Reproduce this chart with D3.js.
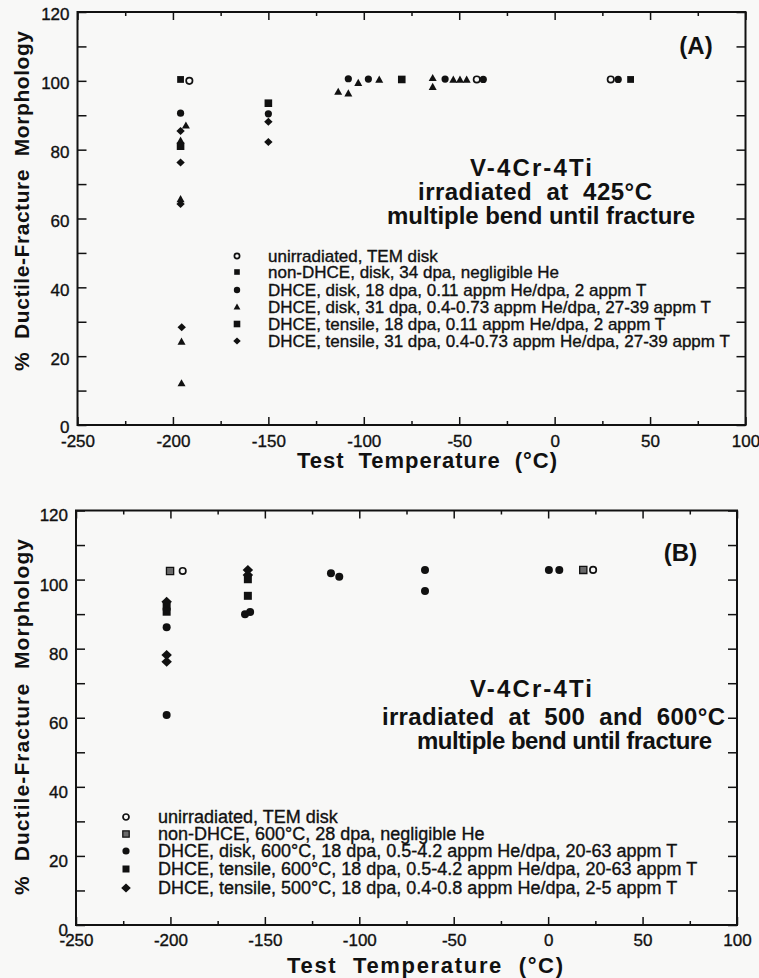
<!DOCTYPE html>
<html>
<head>
<meta charset="utf-8">
<script src="https://cdn.jsdelivr.net/npm/d3@7"></script>
<style>
  html, body { margin: 0; padding: 0; background: #f8f8f7; }
  svg { display: block; }
  text { fill: #111; font-family: "Liberation Sans", Arial, Helvetica, sans-serif; }
  .title { font-weight: bold; white-space: pre; }
  .thin { stroke: #111; stroke-width: 0.35px; }
</style>
</head>
<body>
<svg id="chart" width="759" height="978"></svg>
<script>
// Shared axes
const xTickValues = [-250, -200, -150, -100, -50, 0, 50, 100];
const xMinorTicks = [-225, -175, -125, -75, -25, 25, 75];
const yTickValues = [0, 10, 20, 30, 40, 50, 60, 70, 80, 90, 100, 110, 120];
const yLabelledTicks = [0, 20, 40, 60, 80, 100, 120];

// Panel A: irradiated at 425°C — [temperature °C, % ductile]
const aUnirradiated = [[-191.4, 100], [-40.8, 100.4], [29.4, 100.4]];
const aNonDhceDisk = [[-196, 100.4], [39.8, 100.4]];
const aDhceDisk18 = [[-196, 90.6], [-150, 90.4], [-108.1, 100.6], [-97.6, 100.5],
                     [-57.4, 100.5], [-37.4, 100.4], [33.3, 100.4]];
const aDhceDisk31 = [[-193.2, 87], [-196, 82.6], [-196, 65.6], [-195.5, 24.2], [-195.5, 12.1],
                     [-113.4, 96.8], [-108.1, 96.3], [-102.9, 99.4], [-91.9, 100.3],
                     [-63.9, 100.8], [-63.9, 98.2], [-53.1, 100.3], [-49.6, 100.3], [-46.1, 100.3]];
const aDhceTensile18 = [[-196, 81], [-150, 93.5], [-80.1, 100.4]];
const aDhceTensile31 = [[-196, 85.4], [-196, 76.3], [-196, 64.2], [-195.4, 28.4],
                        [-150, 88.1], [-150, 82.2]];
const aLegendLabels = [
  "unirradiated, TEM disk",
  "non-DHCE, disk, 34 dpa, negligible He",
  "DHCE, disk, 18 dpa, 0.11 appm He/dpa, 2 appm T",
  "DHCE, disk, 31 dpa, 0.4-0.73 appm He/dpa, 27-39 appm T",
  "DHCE, tensile, 18 dpa, 0.11 appm He/dpa, 2 appm T",
  "DHCE, tensile, 31 dpa, 0.4-0.73 appm He/dpa, 27-39 appm T"
];
const aNoteLines = ["V-4Cr-4Ti", "irradiated  at  425°C", "multiple bend until fracture"];

// Panel B: irradiated at 500 and 600°C
const bUnirradiated = [[-193.5, 102.5], [23.8, 102.8]];
const bNonDhce600 = [[-200.2, 102.5], [18.6, 102.8]];
const bDhceDisk600 = [[-202, 86.2], [-202, 60.8], [-160.5, 90], [-157.8, 90.6],
                      [-115, 101.8], [-110.6, 100.8], [-65.2, 102.8], [-65.2, 96.7],
                      [0.4, 102.8], [5.9, 102.8]];
const bDhceTensile600 = [[-202, 92.2], [-202, 90.7], [-159, 100.1], [-159, 95.3]];
const bDhceTensile500 = [[-202, 93.6], [-202, 78.2], [-202, 76.2], [-159, 102.8], [-159, 101.3]];
const bLegendLabels = [
  "unirradiated, TEM disk",
  "non-DHCE, 600°C, 28 dpa, negligible He",
  "DHCE, disk, 600°C, 18 dpa, 0.5-4.2 appm He/dpa, 20-63 appm T",
  "DHCE, tensile, 600°C, 18 dpa, 0.5-4.2 appm He/dpa, 20-63 appm T",
  "DHCE, tensile, 500°C, 18 dpa, 0.4-0.8 appm He/dpa, 2-5 appm T"
];
const bNoteLines = ["V-4Cr-4Ti", "irradiated  at  500  and  600°C", "multiple bend until fracture"];

// Marker outlines, centred on the origin; s is the half-size in px
function markerPath(shape, s) {
  const p = d3.path();
  if (shape === "circle" || shape === "open") {
    p.moveTo(s, 0); p.arc(0, 0, s, 0, 2 * Math.PI);
  } else if (shape === "square" || shape === "grey") {
    p.rect(-s, -s, 2 * s, 2 * s);
  } else if (shape === "triangle") {
    p.moveTo(0, -s * 1.05); p.lineTo(s, s * 0.75); p.lineTo(-s, s * 0.75); p.closePath();
  } else if (shape === "diamond") {
    p.moveTo(0, -s); p.lineTo(s * 1.05, 0); p.lineTo(0, s); p.lineTo(-s * 1.05, 0); p.closePath();
  }
  return p.toString();
}
function styleMarker(sel, shape) {
  if (shape === "open") sel.attr("fill", "#f8f8f7").attr("stroke", "#111").attr("stroke-width", 1.7);
  else if (shape === "grey") sel.attr("fill", "#6a6a6a").attr("stroke", "#111").attr("stroke-width", 1.3);
  else sel.attr("fill", "#111").attr("stroke", "none");
}

const svg = d3.select("#chart");

function drawPanel(cfg) {
  const g = svg.append("g");
  const x = d3.scaleLinear().domain([-250, 100]).range([cfg.left, cfg.right]);
  const y = d3.scaleLinear().domain([0, 120]).range([cfg.bottom, cfg.top]);
  const fmt = d => String(d);

  // bottom axis: major labelled ticks, minor unlabelled ticks
  g.append("g").attr("transform", `translate(0,${cfg.bottom})`)
    .call(d3.axisBottom(x).tickValues(xTickValues).tickFormat(fmt)
      .tickSizeInner(-8).tickSizeOuter(0).tickPadding(cfg.xPad))
    .call(a => a.selectAll("text").attr("font-size", 17).attr("fill", "#111").attr("class", "thin")
      .attr("font-family", "Liberation Sans, Arial, sans-serif"));
  g.append("g").attr("transform", `translate(0,${cfg.bottom})`)
    .call(d3.axisBottom(x).tickValues(xMinorTicks).tickFormat("").tickSizeInner(-4).tickSizeOuter(0));
  // top axis
  g.append("g").attr("transform", `translate(0,${cfg.top})`)
    .call(d3.axisTop(x).tickValues(xTickValues).tickFormat("").tickSizeInner(-8).tickSizeOuter(0));
  g.append("g").attr("transform", `translate(0,${cfg.top})`)
    .call(d3.axisTop(x).tickValues(xMinorTicks).tickFormat("").tickSizeInner(-4).tickSizeOuter(0));
  // left axis
  g.append("g").attr("transform", `translate(${cfg.left},0)`)
    .call(d3.axisLeft(y).tickValues(yTickValues)
      .tickFormat(d => yLabelledTicks.includes(d) ? String(d) : "")
      .tickSizeInner(-9).tickSizeOuter(0).tickPadding(8))
    .call(a => a.selectAll("text").attr("font-size", 17).attr("fill", "#111").attr("class", "thin")
      .attr("font-family", "Liberation Sans, Arial, sans-serif")
      .attr("transform", `translate(0,${cfg.yLabelShift})`));
  // right axis
  g.append("g").attr("transform", `translate(${cfg.right},0)`)
    .call(d3.axisRight(y).tickValues(yTickValues).tickFormat("").tickSizeInner(-9).tickSizeOuter(0));

  g.selectAll(".domain").remove();
  g.selectAll(".tick line").attr("stroke", "#111").attr("stroke-width", 1.5);

  // plot frame
  g.append("rect")
    .attr("x", cfg.left).attr("y", cfg.top)
    .attr("width", cfg.right - cfg.left).attr("height", cfg.bottom - cfg.top)
    .attr("fill", "none").attr("stroke", "#111").attr("stroke-width", 2);

  // data markers
  cfg.series.forEach(s => {
    g.append("g").selectAll("path").data(s.data).join("path")
      .attr("d", markerPath(s.shape, s.size))
      .attr("transform", d => `translate(${x(d[0])},${y(d[1])})`)
      .call(sel => styleMarker(sel, s.shape));
  });

  // legend
  const lg = g.append("g");
  cfg.series.forEach((s, i) => {
    const cy = cfg.legend.rows[i];
    lg.append("path").attr("d", markerPath(s.shape, s.legendSize))
      .attr("transform", `translate(${cfg.legend.markerX},${cy})`)
      .call(sel => styleMarker(sel, s.shape));
    lg.append("text").attr("class", "thin").attr("x", cfg.legend.textX).attr("y", cy).attr("dy", "0.36em")
      .attr("font-size", cfg.legend.fontSize).text(cfg.legend.labels[i]);
  });

  // panel tag and material note
  g.append("text").attr("class", "title").attr("x", cfg.tag.cx).attr("y", cfg.tag.y)
    .attr("text-anchor", "middle").attr("font-size", 24).text(cfg.tag.label);
  cfg.note.lines.forEach((t, i) => {
    g.append("text").attr("class", "title")
      .attr("x", cfg.note.cx[i]).attr("y", cfg.note.y[i]).attr("text-anchor", "middle")
      .attr("font-size", 24).attr("textLength", cfg.note.w[i]).attr("lengthAdjust", "spacing")
      .text(t);
  });

  // axis titles
  g.append("text").attr("class", "title")
    .attr("x", cfg.xTitle.cx).attr("y", cfg.xTitle.y).attr("text-anchor", "middle")
    .attr("font-size", 22).attr("textLength", cfg.xTitle.w).attr("lengthAdjust", "spacing")
    .text("Test  Temperature  (°C)");
  g.append("text").attr("class", "title")
    .attr("transform", `translate(${cfg.yTitle.x},${cfg.yTitle.cy}) rotate(-90)`)
    .attr("text-anchor", "middle")
    .attr("font-size", 21).attr("textLength", cfg.yTitle.w).attr("lengthAdjust", "spacing")
    .text("%  Ductile-Fracture  Morphology");
}

drawPanel({
  left: 77.5, right: 745.5, top: 12, bottom: 425, xPad: 10, yLabelShift: 2.5,
  series: [
    { data: aUnirradiated, shape: "open", size: 3.2, legendSize: 2.6 },
    { data: aNonDhceDisk, shape: "square", size: 3.4, legendSize: 2.8 },
    { data: aDhceDisk18, shape: "circle", size: 3.6, legendSize: 3.2 },
    { data: aDhceDisk31, shape: "triangle", size: 4, legendSize: 3.4 },
    { data: aDhceTensile18, shape: "square", size: 3.8, legendSize: 3.3 },
    { data: aDhceTensile31, shape: "diamond", size: 4, legendSize: 3.6 }
  ],
  legend: { markerX: 237, textX: 268, fontSize: 17, rows: [256, 272, 290, 307, 324, 341], labels: aLegendLabels },
  tag: { label: "(A)", cx: 696, y: 54 },
  note: { lines: aNoteLines, cx: [531, 535, 541], y: [176, 200, 224], w: [122, 234, 308] },
  xTitle: { cx: 427, y: 468, w: 260 },
  yTitle: { x: 29, cy: 201, w: 340 }
});

drawPanel({
  left: 76, right: 737, top: 510.5, bottom: 925, xPad: 9, yLabelShift: 5,
  series: [
    { data: bUnirradiated, shape: "open", size: 3.2, legendSize: 3 },
    { data: bNonDhce600, shape: "grey", size: 3.6, legendSize: 3.2 },
    { data: bDhceDisk600, shape: "circle", size: 4, legendSize: 3.6 },
    { data: bDhceTensile600, shape: "square", size: 4, legendSize: 3.5 },
    { data: bDhceTensile500, shape: "diamond", size: 5, legendSize: 4.6 }
  ],
  legend: { markerX: 126, textX: 158, fontSize: 18, rows: [817, 834, 851, 869, 888], labels: bLegendLabels },
  tag: { label: "(B)", cx: 680.5, y: 561 },
  note: { lines: bNoteLines, cx: [531, 553.5, 564.5], y: [697, 725, 749], w: [122, 343, 295] },
  xTitle: { cx: 425, y: 973, w: 276 },
  yTitle: { x: 29, cy: 717, w: 356 }
});
</script>
</body>
</html>
